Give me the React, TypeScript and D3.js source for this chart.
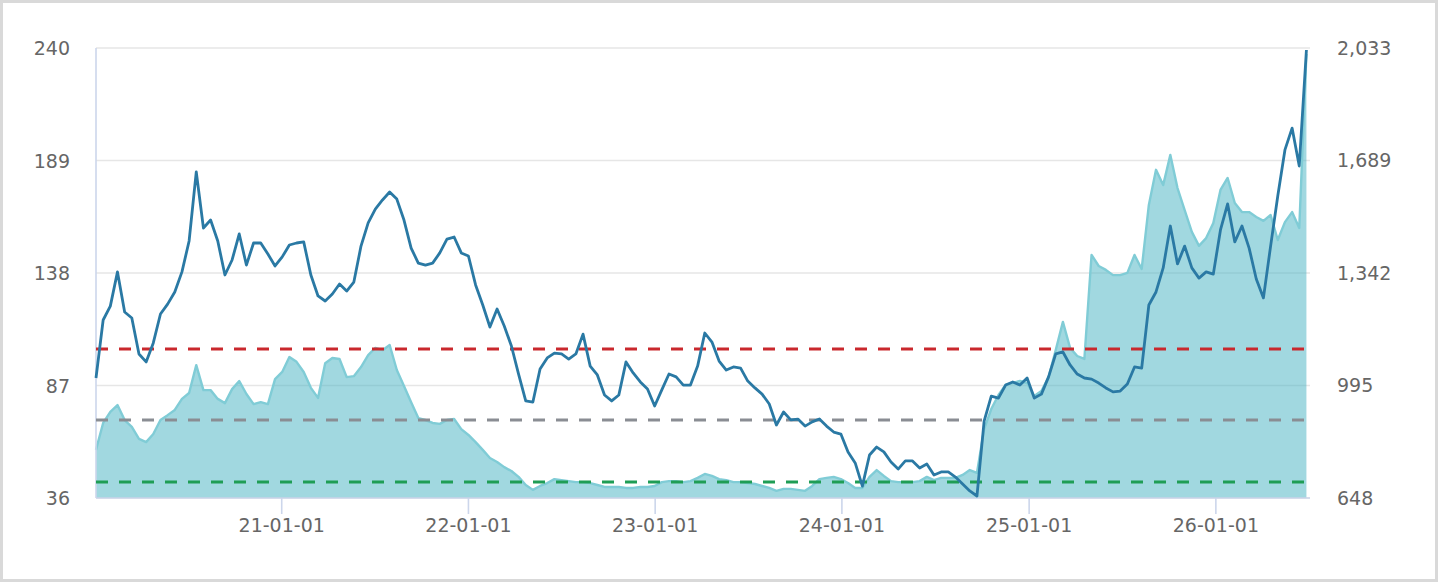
import { area, line, scaleLinear, scaleTime, timeDay, timeFormat, timeYear } from "d3";

// biweekly observations starting 2020-01-04
const startDate = new Date(2020, 0, 4);
const endDate = new Date(2026, 6, 4);

// price series (left axis)
const priceValues = [
    90.4, 116.7, 123.0, 138.5, 120.3, 117.6, 101.3, 97.7, 106.3, 119.4,
    123.9, 129.4, 138.5, 152.5, 183.8, 158.4, 162.0, 152.5, 137.1, 143.9,
    155.7, 141.6, 151.6, 151.6, 146.6, 141.2, 145.3, 150.7, 151.6, 152.1,
    137.1, 127.6, 125.3, 128.5, 133.0, 129.8, 133.9, 150.2, 160.7, 167.0,
    171.1, 174.7, 171.5, 162.0, 149.3, 142.5, 141.6, 142.5, 147.1, 153.4,
    154.3, 147.1, 145.7, 132.6, 123.5, 113.5, 121.7, 114.0, 104.9, 92.2,
    80.0, 79.5, 94.5, 99.5, 101.7, 101.3, 99.0, 101.3, 110.3, 95.8,
    91.8, 82.7, 80.0, 82.7, 97.7, 92.7, 88.6, 85.4, 77.7, 85.0,
    92.2, 90.9, 87.2, 87.2, 95.8, 110.8, 106.7, 98.1, 94.0, 95.4,
    94.9, 89.0, 85.9, 83.1, 78.6, 69.1, 75.0, 71.4, 71.8, 68.6,
    70.5, 71.8, 68.6, 65.9, 65.0, 56.9, 51.9, 41.4, 55.5, 59.1,
    56.9, 52.3, 49.1, 52.8, 52.8, 49.6, 51.4, 46.4, 47.8, 47.8,
    45.5, 42.3, 39.2, 36.9, 70.9, 82.2, 81.3, 87.2, 88.6, 87.2,
    90.4, 81.3, 83.1, 90.9, 101.3, 102.2, 96.3, 92.2, 90.4, 89.9,
    88.1, 85.9, 84.1, 84.5, 87.7, 95.4, 94.9, 123.5, 129.4, 140.3,
    159.3, 142.1, 150.2, 140.3, 135.7, 138.5, 137.5, 157.5, 169.3, 152.1,
    159.3, 149.3, 135.3, 126.7, 150.2, 172.9, 193.8, 203.7, 186.5, 239.1,
];

// second series drawn as area (right axis)
const volumeValues = [
    796, 879, 913, 934, 888, 867, 830, 820, 845, 888,
    903, 919, 953, 971, 1057, 980, 980, 953, 940, 983,
    1008, 968, 937, 943, 937, 1014, 1036, 1082, 1067, 1036,
    987, 956, 1063, 1079, 1076, 1020, 1023, 1051, 1088, 1110,
    1103, 1119, 1042, 993, 943, 894, 888, 879, 876, 888,
    891, 860, 842, 820, 796, 771, 759, 743, 731, 713,
    688, 673, 685, 694, 706, 703, 700, 697, 697, 694,
    688, 682, 682, 682, 679, 679, 682, 682, 685, 697,
    700, 700, 697, 700, 710, 722, 716, 706, 703, 697,
    697, 694, 691, 685, 679, 670, 676, 676, 673, 670,
    685, 706, 710, 713, 706, 694, 679, 679, 713, 734,
    716, 700, 697, 697, 697, 700, 713, 703, 710, 710,
    710, 719, 734, 725, 860, 922, 965, 996, 1002, 1008,
    1002, 962, 977, 1020, 1103, 1190, 1110, 1085, 1076, 1396,
    1362, 1350, 1334, 1334, 1341, 1396, 1353, 1550, 1658, 1611,
    1704, 1602, 1534, 1467, 1424, 1448, 1494, 1596, 1633, 1556,
    1528, 1528, 1513, 1501, 1519, 1442, 1497, 1528, 1479, 2015,
];

const leftTicks = [36, 87, 138, 189, 240];
const rightTicks = [648, 995, 1342, 1689, 2033];

const refLevels = [103.5, 71.4, 43.3];
const refColors = ["#c9282d", "#8a8d93", "#1f9d55"];

const dates = priceValues.map((_, i) => timeDay.offset(startDate, i * 14));

const W = 1438;
const H = 582;
const margin = { top: 48, right: 128, bottom: 84, left: 96 };
const font = "'DejaVu Sans', Verdana, sans-serif";

export default function App() {
    const x = scaleTime()
        .domain([startDate, endDate])
        .range([margin.left, W - margin.right]);
    const yLeft = scaleLinear()
        .domain([leftTicks[0], leftTicks[leftTicks.length - 1]])
        .range([H - margin.bottom, margin.top]);
    const yRight = scaleLinear()
        .domain([rightTicks[0], rightTicks[rightTicks.length - 1]])
        .range([H - margin.bottom, margin.top]);

    const xTicks = timeYear.range(new Date(2021, 0, 1), new Date(2026, 0, 2));
    const fmt = timeFormat("%y-%m-%d");

    const areaPath = area<number>()
        .x((_, i) => x(dates[i]))
        .y0(yRight(rightTicks[0]))
        .y1((d) => yRight(d))(volumeValues);
    const areaEdge = line<number>()
        .x((_, i) => x(dates[i]))
        .y((d) => yRight(d))(volumeValues);
    const pricePath = line<number>()
        .x((_, i) => x(dates[i]))
        .y((d) => yLeft(d))(priceValues);

    const [x0, x1] = x.range();
    const bottom = yLeft.range()[0];

    return (
        <svg
            width={W}
            height={H}
            style={{ position: "absolute", left: 0, top: 0, display: "block" }}
        >
            <rect x={1.5} y={1.5} width={W - 3} height={H - 3} fill="#fff" stroke="#d9d9d9" strokeWidth={3} />

            {leftTicks.map((t) => (
                <line key={`g-${t}`} x1={x0} x2={x1} y1={yLeft(t)} y2={yLeft(t)} stroke="#e6e6e6" strokeWidth={1.6} />
            ))}

            <path d={areaPath ?? ""} fill="#4ab5c4" fillOpacity={0.52} />
            <path d={areaEdge ?? ""} fill="none" stroke="#80ccd6" strokeWidth={2.4} strokeLinejoin="round" />

            <line x1={x0} x2={x0} y1={margin.top} y2={bottom} stroke="#ccd6eb" strokeWidth={1.6} />
            <line x1={x0} x2={x1} y1={bottom} y2={bottom} stroke="#ccd6eb" strokeWidth={1.6} />
            {xTicks.map((d) => (
                <g key={`xt-${+d}`}>
                    <line x1={x(d)} x2={x(d)} y1={bottom} y2={bottom + 16} stroke="#ccd6eb" strokeWidth={1.6} />
                    <text x={x(d)} y={532} textAnchor="middle" fontFamily={font} fontSize={19} fill="#666">
                        {fmt(d)}
                    </text>
                </g>
            ))}

            {refLevels.map((v, i) => (
                <line
                    key={`ref-${v}`}
                    x1={x0}
                    x2={x1}
                    y1={yLeft(v)}
                    y2={yLeft(v)}
                    stroke={refColors[i]}
                    strokeWidth={3}
                    strokeDasharray="12 11"
                />
            ))}

            <path d={pricePath ?? ""} fill="none" stroke="#2a79a4" strokeWidth={2.8} strokeLinejoin="round" />

            {leftTicks.map((t) => (
                <text key={`lt-${t}`} x={70} y={yLeft(t) + 7} textAnchor="end" fontFamily={font} fontSize={19} fill="#666">
                    {t}
                </text>
            ))}
            {rightTicks.map((t) => (
                <text key={`rt-${t}`} x={1337} y={yRight(t) + 7} textAnchor="start" fontFamily={font} fontSize={19} fill="#666">
                    {t.toLocaleString("en-US")}
                </text>
            ))}
        </svg>
    );
}
